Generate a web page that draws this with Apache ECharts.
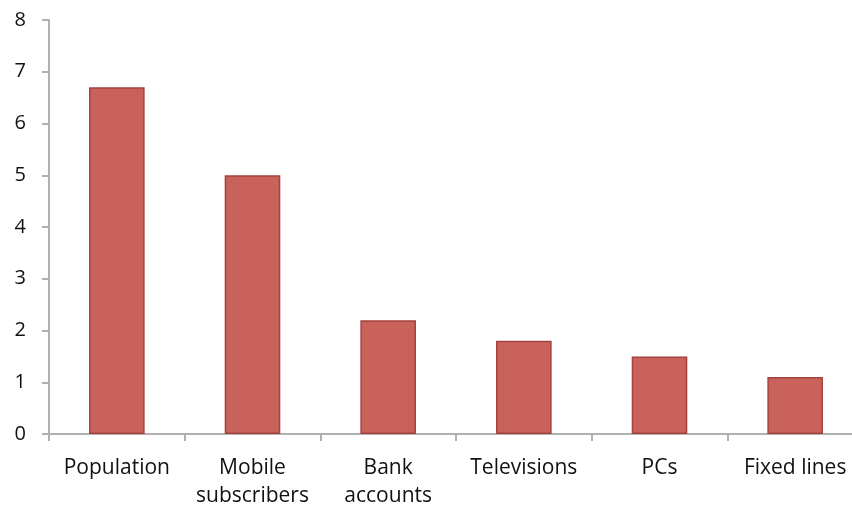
<!DOCTYPE html>
<html><head><meta charset="utf-8">
<script src="https://cdn.jsdelivr.net/npm/echarts@6/dist/echarts.min.js"></script>
<style>html,body{margin:0;padding:0;background:#fff}#c{width:852px;height:506px}</style>
</head><body><div id="c"></div>
<script>
const categories = ['Population', 'Mobile\nsubscribers', 'Bank\naccounts', 'Televisions', 'PCs', 'Fixed lines'];
const values = [6.7, 5.0, 2.2, 1.8, 1.5, 1.1];
const yTicks = [0, 1, 2, 3, 4, 5, 6, 7, 8];

const chart = echarts.init(document.getElementById('c'));
chart.setOption({
  animation: false,
  grid: { left: 49, top: 20, width: 814, height: 414, containLabel: false, outerBoundsMode: 'none' },
  xAxis: {
    type: 'category', data: categories,
    axisLine: { lineStyle: { color: '#b0b0b0', width: 2 } },
    axisTick: { show: true, length: 7, lineStyle: { color: '#b0b0b0', width: 2 } },
    axisLabel: { color: '#111', fontFamily: 'Open Sans', fontSize: 21, margin: 20, lineHeight: 28, interval: 0 }
  },
  yAxis: {
    type: 'value', min: yTicks[0], max: yTicks[yTicks.length - 1], interval: 1,
    splitLine: { show: false },
    axisLine: { show: true, lineStyle: { color: '#b0b0b0', width: 2 } },
    axisTick: { show: true, length: 7, lineStyle: { color: '#b0b0b0', width: 2 } },
    axisLabel: { color: '#111', fontFamily: 'Open Sans', fontSize: 20, margin: 23 }
  },
  series: [{
    type: 'bar', data: values, barWidth: '41%',
    itemStyle: { color: '#c8625b', borderColor: '#a4433f', borderWidth: 1.5 }
  }]
});
</script></body></html>
